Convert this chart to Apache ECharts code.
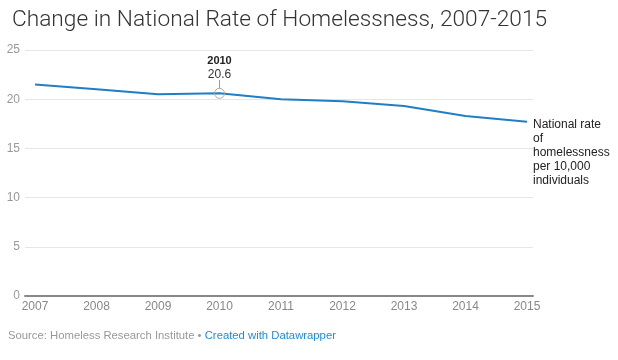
<!DOCTYPE html>
<html>
<head>
<meta charset="utf-8">
<script src="https://cdn.jsdelivr.net/npm/echarts@6/dist/echarts.min.js"></script>
<style>html,body{margin:0;padding:0;background:#fff;}#c{width:618px;height:360px;}</style>
</head>
<body>
<div id="c"></div>
<script>
var years = [2007, 2008, 2009, 2010, 2011, 2012, 2013, 2014, 2015];
var rates = [21.5, 21.0, 20.5, 20.6, 20.0, 19.8, 19.3, 18.3, 17.7];
var yTicks = [0, 5, 10, 15, 20, 25];
var highlightYear = 2010;
var seriesName = 'National rate\nof\nhomelessness\nper 10,000\nindividuals';

var font = '"Liberation Sans", Arial, sans-serif';
var data = years.map(function (y, i) {
  var item = { value: [y, rates[i]] };
  if (y === highlightYear) {
    item.symbol = 'circle';
    item.symbolSize = 10;
    item.itemStyle = { color: 'rgba(255,255,255,0)', borderColor: '#aaa', borderWidth: 1 };
    item.label = {
      show: true, position: 'top', distance: 6,
      formatter: function (p) { return '{b|' + p.value[0] + '}\n{v|' + p.value[1].toFixed(1) + '}'; },
      rich: {
        b: { fontFamily: font, fontSize: 11, fontWeight: 'bold', color: '#222', lineHeight: 13, align: 'center' },
        v: { fontFamily: font, fontSize: 12, color: '#333', lineHeight: 14, align: 'center' }
      }
    };
  }
  return item;
});

var chart = echarts.init(document.getElementById('c'), null, { renderer: 'canvas' });
chart.setOption({
  animation: false,
  title: {
    text: 'Change in National Rate of Homelessness, 2007-2015',
    left: 7, top: 4,
    textStyle: { fontFamily: 'Roboto, sans-serif', fontWeight: 300, fontSize: 22.7, color: '#333' }
  },
  grid: { left: 25, right: 85, top: 50, bottom: 64, containLabel: false },
  xAxis: {
    type: 'value',
    min: 2006.837, max: 2015.098,
    axisLine: { show: true, lineStyle: { color: '#888', width: 2 } },
    axisTick: { show: false },
    splitLine: { show: false },
    axisLabel: {
      customValues: years,
      formatter: function (v) { return String(v); },
      fontFamily: font, fontSize: 12, color: '#888', margin: 5
    }
  },
  yAxis: {
    type: 'value', min: 0, max: 25, interval: 5,
    axisLine: { show: false },
    axisTick: { show: false },
    splitLine: { show: true, lineStyle: { color: '#e6e6e6', width: 1 } },
    axisLabel: { fontFamily: font, fontSize: 12, color: '#999', margin: 5 }
  },
  series: [{
    type: 'line',
    name: seriesName,
    data: data,
    symbol: 'none',
    showSymbol: true,
    lineStyle: { color: '#1f7fc4', width: 2 },
    itemStyle: { color: '#1f7fc4' },
    endLabel: {
      show: true,
      formatter: function (p) { return p.seriesName; },
      fontFamily: font, fontSize: 12, color: '#222', lineHeight: 14,
      align: 'left', verticalAlign: 'top', distance: 6, offset: [0, -4]
    },
    markLine: {
      silent: true, symbol: 'none', label: { show: false },
      lineStyle: { color: '#999', width: 1, type: 'solid' },
      data: [[{ coord: [highlightYear, 21.1] }, { coord: [highlightYear, 21.95] }]]
    }
  }],
  graphic: [{
    type: 'text', left: 8, top: 330,
    style: {
      text: '{s|Source: Homeless Research Institute • }{l|Created with Datawrapper}',
      rich: {
        s: { fontFamily: font, fontSize: 11.3, fill: '#999' },
        l: { fontFamily: font, fontSize: 11.3, fill: '#1f8dd6' }
      }
    }
  }]
});
</script>
</body>
</html>
